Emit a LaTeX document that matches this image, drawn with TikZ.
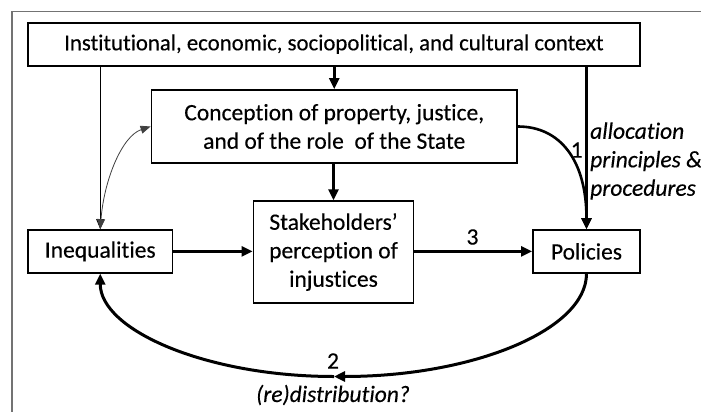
\documentclass[tikz,border=0pt]{standalone}
\usepackage{fontspec}
\setmainfont{Carlito}
\newfontfamily\heavyfont{Carlito}[FakeBold=0.3, Ligatures=NoCommon]
\usetikzlibrary{arrows.meta}
\begin{document}
\begin{tikzpicture}[x=1pt,y=-1pt,
  txt/.style={font=\heavyfont\fontsize{23.5}{28.5}\selectfont},
  box/.style={txt, draw, line width=1.8pt, inner sep=0pt, align=center},
  lbl/.style={txt, inner sep=0pt},
  itlbl/.style={inner sep=0pt, font=\heavyfont\fontsize{23.5}{28.5}\selectfont\itshape},
  bigarrow/.style={line width=2.6pt, -{Triangle[length=11pt,width=10pt]}},
  thinarrow/.style={line width=0.9pt, -{Triangle[length=10pt,width=8pt]}},
]
\useasboundingbox (0,0) rectangle (701,412);
\fill[white] (0,0) rectangle (701,412);
\draw[black!55, line width=1.6pt] (11.7,412) -- (11.7,11.7) -- (701,11.7);

\node[box, font=\heavyfont\fontsize{22.8}{28}\selectfont, minimum width=612pt, minimum height=43pt] (top) at (334,44.2)
  {Institutional, economic, sociopolitical, and cultural context};
\node[box, minimum width=365.5pt, minimum height=73pt] (conc) at (334.25,126.5)
  {Conception of property, justice,\\and of the role\ \ of the State};
\node[box, minimum width=160pt, minimum height=101.7pt] (stake) at (333.5,252)
  {Stakeholders’\\perception of\\injustices};
\node[box, minimum width=144.5pt, minimum height=42.7pt] (ineq) at (100.25,251.4)
  {Inequalities};
\node[box, minimum width=107pt, minimum height=42.7pt] (pol) at (586.5,251.4)
  {Policies};

\coordinate (mid) at (334,376.5);

% thin connectors
\draw[thinarrow] (top.south -| ineq.north) -- (ineq.north);
\draw[line width=0.8pt, black!75, {Triangle[length=10pt,width=8pt]}-{Triangle[length=10pt,width=8pt]}]
  (ineq.north) .. controls (104,180) and (122,136) .. (conc.west);

% thick connectors
\draw[bigarrow] (top.south -| conc.north) -- (conc.north);
\draw[bigarrow] (conc.south -| stake.north) -- (stake.north);
\draw[bigarrow] (top.south -| pol.north) -- (pol.north);
\draw[bigarrow] (conc.east) .. controls (560,126.5) and (586.5,160) .. (pol.north);
\draw[bigarrow] (ineq.east) -- (stake.west |- ineq.east);
\draw[bigarrow] (stake.east |- pol.west) -- (pol.west);
\draw[line width=3pt, -{Triangle[length=11pt,width=10pt]}]
  (pol.south) .. controls (586.5,330) and (473,376.5) .. (mid);
\draw[line width=3pt, -{Triangle[length=11pt,width=10pt]}]
  (mid) .. controls (206,376.5) and (100.25,330) .. (ineq.south);

% labels
\node[lbl] (n1) at (576.7,150) {1};
\node[lbl] (n3) at (472.5,237) {3};
\node[lbl] (n2) at (333,361) {2};
\node[itlbl] (redis) at (333,395) {(re)distribution?};
\node[itlbl, anchor=west, align=left] (alloc) at (590,161)
  {allocation\\principles \&\\procedures};
\end{tikzpicture}
\end{document}
